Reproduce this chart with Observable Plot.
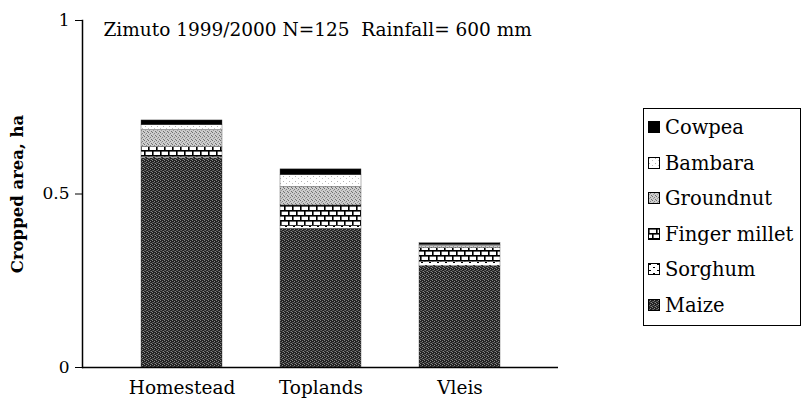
<!DOCTYPE html>
<html><head><meta charset="utf-8">
<script src="https://cdn.jsdelivr.net/npm/d3@7"></script>
<script src="https://cdn.jsdelivr.net/npm/@observablehq/plot@0.6"></script>
<style>
body{margin:0;background:#fff;}
#wrap{position:relative;width:803px;height:411px;font-family:"DejaVu Serif",serif;color:#000;}
#legend{position:absolute;left:643px;top:108px;width:158px;height:218px;border:1px solid #000;box-sizing:border-box;background:#fff;}
#legend .item{position:absolute;left:4px;display:flex;align-items:center;font-size:19.5px;line-height:1;white-space:nowrap;}
#legend svg{margin-right:3px;}
</style></head><body><div id="wrap"></div>
<script>
const sites = ["Homestead", "Toplands", "Vleis"];
const crops = ["Maize", "Sorghum", "Finger millet", "Groundnut", "Bambara", "Cowpea"];
const maize = [0.603, 0.400, 0.292];
const sorghum = [0.003, 0.007, 0.012];
const fingerMillet = [0.029, 0.060, 0.040];
const groundnut = [0.049, 0.053, 0.006];
const bambara = [0.014, 0.034, 0.003];
const cowpea = [0.014, 0.017, 0.005];
const yTicks = [0, 0.5, 1];
const yTickLabels = ["0", "0.5", "1"];
const title = "Zimuto 1999/2000 N=125\u00a0 Rainfall= 600 mm";
const yLabel = "Cropped area, ha";

const series = [maize, sorghum, fingerMillet, groundnut, bambara, cowpea];
const rows = [];
sites.forEach((s, i) => crops.forEach((c, j) => rows.push({site: s, crop: c, value: series[j][i]})));
const patIds = crops.map((c, j) => `url(#pat${j})`);

const chart = Plot.plot({
  width: 803, height: 411,
  marginLeft: 82, marginRight: 245, marginTop: 20, marginBottom: 44,
  style: {fontFamily: "DejaVu Serif, serif", fontSize: "18px", color: "#000", background: "#fff", overflow: "visible"},
  x: {domain: sites, padding: 0.42, label: null},
  y: {domain: [0, 1], label: null},
  color: {domain: crops, range: patIds},
  marks: [
    Plot.barY(rows, {x: "site", y: "value", fill: "crop", stroke: "#444", strokeWidth: 0.4}),
    Plot.axisY({ticks: yTicks, tickFormat: (d, i) => yTickLabels[i], tickSize: 7, tickPadding: 6, fontSize: 17, label: null}),
    Plot.axisX({tickSize: 0, tickPadding: 13, fontSize: 18.5, label: null}),
    Plot.ruleY([0], {stroke: "#000", strokeWidth: 1.5}),
    Plot.frame({anchor: "left", stroke: "#000", strokeWidth: 1.5}),
    Plot.text([title], {frameAnchor: "top-left", dx: 21, dy: 10, textAnchor: "start", lineAnchor: "middle", fontSize: 18.5}),
    Plot.text([yLabel], {frameAnchor: "left", dx: -65, rotate: -90, textAnchor: "middle", lineAnchor: "middle", fontWeight: "bold", fontSize: 16.5})
  ]
});

// patterns
const svg = d3.select(chart);
const defs = svg.insert("defs", ":first-child");
function pat(id, w, h, bg, rects) {
  const p = defs.append("pattern").attr("id", id).attr("patternUnits", "userSpaceOnUse").attr("width", w).attr("height", h);
  p.append("rect").attr("width", w).attr("height", h).attr("fill", bg);
  rects.forEach(([x, y, rw, rh, f]) => p.append("rect").attr("x", x).attr("y", y).attr("width", rw).attr("height", rh).attr("fill", f));
}
pat("pat0", 4, 4, "#222", [[0,0,1,1,"#858585"],[2,1,1,1,"#858585"],[1,2,1,1,"#666"],[3,3,1,1,"#858585"],[2,3,1,1,"#505050"],[0,2,1,1,"#505050"]]);
pat("pat1", 8, 6, "#fff", [[1,1,2,1,"#000"],[5,4,2,1,"#000"]]);
pat("pat2", 16, 10, "#fff", [[0,0,16,1.6,"#000"],[0,5,16,1.6,"#000"],[0,0,1.6,5,"#000"],[8,0,1.6,5,"#000"],[4,5,1.6,5,"#000"],[12,5,1.6,5,"#000"]]);
pat("pat3", 4, 4, "#cdcdcd", [[0,0,1,1,"#6f6f6f"],[2,1,1,1,"#808080"],[3,3,1,1,"#6f6f6f"],[1,2,1,1,"#999"]]);
pat("pat4", 6, 5, "#fff", [[1,1,1,1,"#b0b0b0"],[4,3,1,1,"#c0c0c0"]]);
pat("pat5", 4, 4, "#000", []);

const wrap = document.getElementById("wrap");
wrap.appendChild(chart);

// legend
const legend = document.createElement("div");
legend.id = "legend";
const order = crops.slice().reverse();
order.forEach((c, i) => {
  const it = document.createElement("div");
  it.className = "item";
  it.style.top = (9 + i * 35.5) + "px";
  const j = crops.indexOf(c);
  it.innerHTML = `<svg width="14" height="13"><rect x="0.5" y="0.5" width="11" height="11" fill="${patIds[j]}" stroke="#000" stroke-width="1"/></svg><span>${c}</span>`;
  legend.appendChild(it);
});
wrap.appendChild(legend);
</script></body></html>
